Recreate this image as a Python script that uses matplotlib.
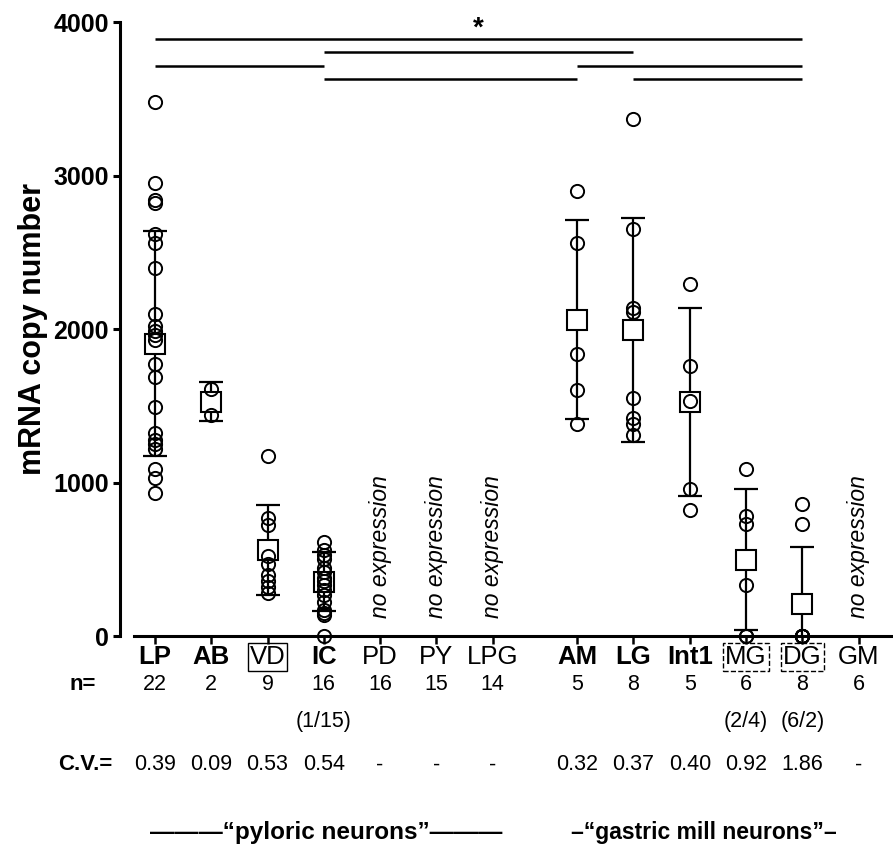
import matplotlib
matplotlib.use("Agg")
import matplotlib.pyplot as plt
import numpy as np

plt.rcParams["font.family"] = ["Liberation Sans", "DejaVu Sans"]

# categories and their x slots (gap between pyloric and gastric mill groups)
cells = ["LP", "AB", "VD", "IC", "PD", "PY", "LPG", "AM", "LG", "Int1", "MG", "DG", "GM"]
xpos = [0, 1, 2, 3, 4, 5, 6, 7.5, 8.5, 9.5, 10.5, 11.5, 12.5]
bold_cells = ["LP", "AB", "IC", "AM", "LG", "Int1"]
solid_box = ["VD"]
dashed_box = ["MG", "DG"]
n_vals = ["22", "2", "9", "16", "16", "15", "14", "5", "8", "5", "6", "8", "6"]
cv_vals = ["0.39", "0.09", "0.53", "0.54", "-", "-", "-", "0.32", "0.37", "0.40", "0.92", "1.86", "-"]
zero_counts = {"IC": "(1/15)", "MG": "(2/4)", "DG": "(6/2)"}
no_expr = ["PD", "PY", "LPG", "GM"]

# single-cell copy numbers
points = {
    "LP": [3480, 2950, 2840, 2820, 2620, 2560, 2400, 2100, 2020, 1990, 1960,
           1930, 1770, 1690, 1490, 1320, 1280, 1250, 1220, 1090, 1030, 930],
    "AB": [1610, 1440],
    "VD": [1175, 770, 720, 520, 470, 400, 360, 320, 280],
    "IC": [610, 560, 530, 500, 440, 420, 380, 360, 330, 300, 270, 220, 170, 150, 140, 0],
    "AM": [2900, 2560, 1840, 1600, 1380],
    "LG": [3370, 2650, 2140, 2110, 1550, 1420, 1380, 1310],
    "Int1": [2290, 1760, 1530, 960, 820],
    "MG": [1090, 780, 730, 330, 0, 0],
    "DG": [860, 730, 0, 0, 0, 0, 0, 0],
}
means = {"LP": 1905, "AB": 1527, "VD": 559, "IC": 355, "AM": 2061,
         "LG": 1995, "Int1": 1525, "MG": 497, "DG": 209}
sds = {"LP": 733, "AB": 127, "VD": 294, "IC": 190, "AM": 650,
       "LG": 728, "Int1": 611, "MG": 458, "DG": 373}

# significance bars: (from, to, height)
sig_bars = [
    ("LP", "DG", 3889),
    ("IC", "LG", 3805),
    ("LP", "IC", 3713),
    ("AM", "DG", 3713),
    ("IC", "AM", 3629),
    ("LG", "DG", 3629),
]
star_y = 3960

X = dict(zip(cells, xpos))

fig = plt.figure(figsize=(8.93, 8.55), dpi=100)
ax = fig.add_axes([120 / 893, 219 / 855, 773 / 893, 614 / 855])
ax.set_xlim(-0.62, 13.11)
ax.set_ylim(0, 4000)

for c, vals in points.items():
    x = X[c]
    ax.errorbar([x], [means[c]], yerr=[sds[c]], fmt="none", ecolor="black",
                elinewidth=1.6, capsize=8.5, capthick=1.6, zorder=2)
    ax.plot([x], [means[c]], marker="s", ms=14.5, mfc="white", mec="black",
            mew=1.5, ls="none", zorder=3)
    ax.plot([x] * len(vals), vals, marker="o", ms=9.5, mfc="none", mec="black",
            mew=1.4, ls="none", zorder=4, clip_on=False)

for c in no_expr:
    ax.text(X[c], 120, "no expression", rotation=90, ha="center", va="bottom",
            fontsize=16.5, style="italic")

for a, b, h in sig_bars:
    ax.plot([X[a], X[b]], [h, h], color="black", lw=1.8, clip_on=False,
            solid_capstyle="butt")
ax.text((X["LP"] + X["DG"]) / 2, star_y, "*", ha="center", va="center",
        fontsize=20, fontweight="bold")

# axes styling
for s in ["top", "right"]:
    ax.spines[s].set_visible(False)
ax.spines["left"].set_linewidth(2.2)
ax.spines["bottom"].set_linewidth(2.2)
ax.spines["bottom"].set_bounds(-0.37, 13.11)
ax.set_yticks([0, 1000, 2000, 3000, 4000])
ax.set_yticklabels(["0", "1000", "2000", "3000", "4000"], fontweight="bold", fontsize=18)
ax.tick_params(axis="y", direction="out", length=5, width=2.2, pad=3)
ax.set_xticks(xpos)
ax.set_xticklabels([])
ax.tick_params(axis="x", direction="out", length=5.5, width=1.8)
ax.set_ylabel("mRNA copy number", fontsize=22, fontweight="bold", labelpad=4)

# rows below the axis (axes fraction y)
tr = ax.get_xaxis_transform()
def row(px):
    return (636 - px) / 614

for c, x in zip(cells, xpos):
    kw = dict(ha="center", va="center", fontsize=18.5, transform=tr, clip_on=False)
    if c in bold_cells:
        kw["fontweight"] = "bold"
    if c in solid_box:
        kw["bbox"] = dict(boxstyle="square,pad=0.08", fc="none", ec="black", lw=1.0)
    if c in dashed_box:
        kw["bbox"] = dict(boxstyle="square,pad=0.08", fc="none", ec="black", lw=1.0, ls="--")
    ax.text(x, row(657), c, **kw)

ax.text(-1.05, row(685), "n=", ha="right", va="center", fontsize=16,
        fontweight="bold", transform=tr)
for x, n in zip(xpos, n_vals):
    ax.text(x, row(685), n, ha="center", va="center", fontsize=15.5, transform=tr)
for c, t in zero_counts.items():
    ax.text(X[c], row(721), t, ha="center", va="center", fontsize=15.5, transform=tr)

ax.text(-0.75, row(765), "C.V.=", ha="right", va="center", fontsize=16,
        fontweight="bold", transform=tr)
for x, v in zip(xpos, cv_vals):
    ax.text(x, row(765), v, ha="center", va="center", fontsize=15.5, transform=tr)

ax.text(3.05, row(832), "\u2014\u2014\u2014\u201cpyloric neurons\u201d\u2014\u2014\u2014",
        ha="center", va="center", fontsize=17.5, fontweight="bold", transform=tr)
ax.text(9.75, row(832), "\u2013\u201cgastric mill neurons\u201d\u2013",
        ha="center", va="center", fontsize=16.5, fontweight="bold", transform=tr)

fig.savefig("out.png", dpi=100)
